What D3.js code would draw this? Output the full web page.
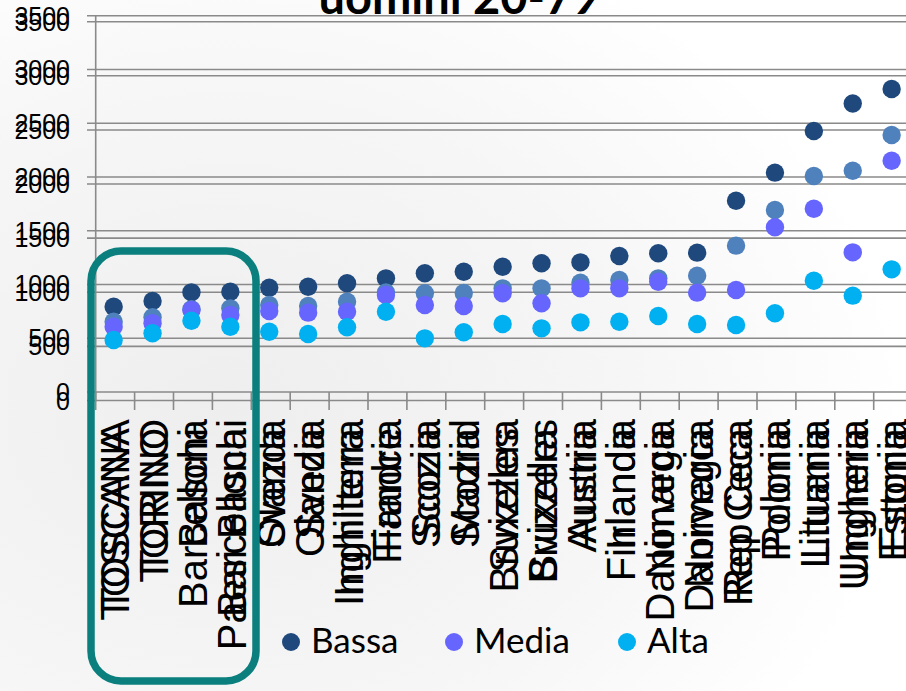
<!DOCTYPE html>
<html>
<head>
<meta charset="utf-8">
<script src="https://cdn.jsdelivr.net/npm/d3@7"></script>
<style>
  html, body { margin: 0; padding: 0; background: #ffffff; }
  svg { display: block; }
</style>
</head>
<body>
<svg id="chart" width="906" height="691"></svg>
<script>
// Two overlaid panels share the same category axis; the second one sits a few pixels lower.
const categorieA = ["TOSCANA", "TORINO", "Barcellona", "Paesi Baschi", "Olanda", "Svezia",
  "Inghilterra", "Francia", "Scozia", "Madrid", "Svizzera", "Bruxelles", "Austria",
  "Finlandia", "Norvegia", "Danimarca", "Rep Ceca", "Polonia", "Lituania", "Ungheria", "Estonia"];
const categorieB = ["TOSCANA", "TORINO", "Baschi", "Barcellona", "Svezia", "Olanda",
  "Inghilterra", "Fiandre", "Scozia", "Scozia", "Bruxelles", "Svizzera", "Austria",
  "Irlanda", "Danimarca", "Norvegia", "Rep Ceca", "Polonia", "Lituania", "Ungheria", "Estonia"];

const bassa  = [793, 846, 927, 933, 970, 979, 1011, 1057, 1104, 1119, 1165, 1197, 1206,
  1265, 1290, 1296, 1779, 2040, 2428, 2683, 2818];
const totale = [654, 695, 770, 778, 809, 800, 840, 925, 918, 921, 964, 964, 1017,
  1042, 1057, 1082, 1361, 1693, 2009, 2058, 2390];
const media  = [607, 639, 763, 716, 753, 738, 747, 902, 809, 800, 918, 825, 964,
  964, 1026, 924, 949, 1532, 1705, 1299, 2151];
const alta   = [484, 546, 663, 607, 561, 539, 602, 747, 499, 556, 632, 592, 648,
  654, 707, 632, 623, 732, 1035, 896, 1141];

const yTicks = [0, 500, 1000, 1500, 2000, 2500, 3000, 3500];
const titolo = "uomini 20-79";
const legenda = [
  { nome: "Bassa", colore: "#1F497D" },
  { nome: "Media", colore: "#6666FF" },
  { nome: "Alta",  colore: "#00B0F0" }
];

const svg = d3.select("#chart");
const W = 906, H = 691;

// soft grey wash behind the plot
const defs = svg.append("defs");
const grad = defs.append("radialGradient").attr("id", "wash")
  .attr("cx", "0.25").attr("cy", "0.6").attr("r", "0.75");
grad.append("stop").attr("offset", "0").attr("stop-color", "#eeeeee");
grad.append("stop").attr("offset", "0.6").attr("stop-color", "#f6f6f6");
grad.append("stop").attr("offset", "1").attr("stop-color", "#ffffff");
svg.append("rect").attr("width", W).attr("height", H).attr("fill", "url(#wash)");

const x = d3.scaleBand().domain(d3.range(categorieA.length)).range([95.7, 912.6]).padding(0);
const yA = d3.scaleLinear().domain([0, 3500]).range([392, 15.7]);
const yB = d3.scaleLinear().domain([0, 3500]).range([400.5, 21.7]);

const gridColor = "#8a8a8a";

function drawPanel(y, labels, labelTop) {
  const g = svg.append("g");
  // horizontal gridlines
  g.selectAll("line.grid").data(yTicks).join("line")
    .attr("x1", 87).attr("x2", W)
    .attr("y1", d => y(d)).attr("y2", d => y(d))
    .attr("stroke", gridColor).attr("stroke-width", 1.6);
  // y tick labels
  g.selectAll("text.yl").data(yTicks).join("text")
    .attr("x", 70).attr("y", d => y(d)).attr("dy", "0.36em")
    .attr("text-anchor", "end")
    .attr("font-family", "Liberation Sans, Arial, sans-serif")
    .attr("font-size", 25).attr("fill", "#000")
    .text(d => d);
  // category tick marks
  const bounds = d3.range(categorieA.length + 1).map(i => x.range()[0] + i * x.step());
  g.selectAll("line.xt").data(bounds).join("line")
    .attr("x1", d => d).attr("x2", d => d)
    .attr("y1", y(0)).attr("y2", y(0) + 9.5)
    .attr("stroke", gridColor).attr("stroke-width", 1.6);
  // rotated category labels
  g.selectAll("text.xl").data(labels).join("text")
    .attr("transform", (d, i) => `translate(${x(i) + x.bandwidth() / 2},${labelTop}) rotate(-90)`)
    .attr("dy", "0.35em")
    .attr("text-anchor", "end")
    .attr("font-family", "Liberation Sans, Arial, sans-serif")
    .attr("font-size", 40).attr("fill", "#000")
    .text(d => d);
}

drawPanel(yB, categorieB, 428);
drawPanel(yA, categorieA, 419);

// y axis line
svg.append("line").attr("x1", 95.7).attr("x2", 95.7)
  .attr("y1", yA(3500)).attr("y2", yB(0))
  .attr("stroke", gridColor).attr("stroke-width", 1.6);

// markers
const serie = [
  { valori: bassa,  colore: "#1F497D" },
  { valori: totale, colore: "#4F81BD" },
  { valori: media,  colore: "#6666FF" },
  { valori: alta,   colore: "#00B0F0" }
];
serie.forEach(s => {
  svg.append("g").selectAll("circle").data(s.valori).join("circle")
    .attr("cx", (d, i) => x(i) + x.bandwidth() / 2 - 1.5)
    .attr("cy", d => yA(d))
    .attr("r", 9.2)
    .attr("fill", s.colore);
});

// title, partly cut by the top edge
svg.append("text").attr("x", 459).attr("y", 14)
  .attr("text-anchor", "middle")
  .attr("font-family", "Lato, sans-serif").attr("font-weight", 700)
  .attr("font-size", 47).attr("fill", "#000")
  .text(titolo);

// legend
const legX = [291, 454, 627];
const lg = svg.append("g");
legenda.forEach((d, i) => {
  lg.append("circle").attr("cx", legX[i]).attr("cy", 642).attr("r", 9).attr("fill", d.colore);
  lg.append("text").attr("x", legX[i] + 20).attr("y", 653)
    .attr("font-family", "Lato, sans-serif").attr("font-size", 35).attr("fill", "#000")
    .text(d.nome);
});

// highlight frame around the first four categories
svg.append("rect")
  .attr("x", 91).attr("y", 251).attr("width", 165).attr("height", 430)
  .attr("rx", 30).attr("ry", 30)
  .attr("fill", "none").attr("stroke", "#0A7F7E").attr("stroke-width", 7.5);
</script>
</body>
</html>
